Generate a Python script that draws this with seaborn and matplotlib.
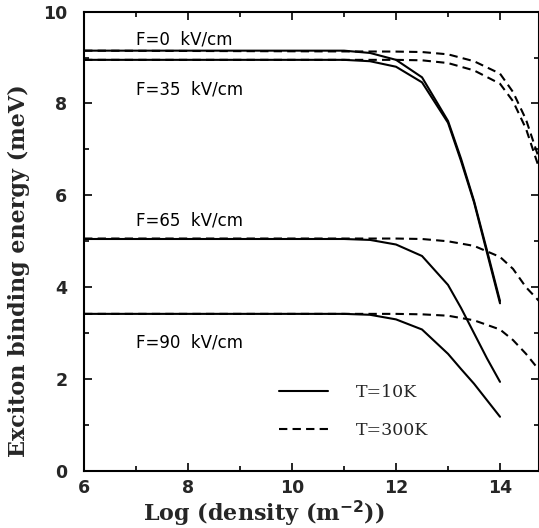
import matplotlib
matplotlib.use("Agg")
import matplotlib.pyplot as plt
import seaborn as sns
import pandas as pd
from matplotlib.lines import Line2D
from matplotlib.ticker import MultipleLocator

# | Data |--------------------------------------------------------------------------------------------------------------|
fields = ["F=0  kV/cm", "F=35  kV/cm", "F=65  kV/cm", "F=90  kV/cm"]

# T = 10K (solid)
x_10k = [6.0, 11.0, 11.5, 12.0, 12.5, 13.0, 13.25, 13.5, 13.75, 14.0]
e_10k_f0 = [9.15, 9.15, 9.10, 8.95, 8.57, 7.62, 6.80, 5.88, 4.80, 3.70]
e_10k_f35 = [8.95, 8.95, 8.92, 8.80, 8.46, 7.58, 6.75, 5.85, 4.75, 3.65]
e_10k_f65 = [5.05, 5.05, 5.03, 4.93, 4.68, 4.05, 3.55, 3.00, 2.45, 1.94]
e_10k_f90 = [3.42, 3.42, 3.40, 3.30, 3.08, 2.55, 2.22, 1.90, 1.54, 1.18]

# T = 300K (dashed)
x_300k = [6.0, 12.0, 12.5, 13.0, 13.5, 14.0, 14.25, 14.5, 14.75]
e_300k_f0 = [9.15, 9.13, 9.12, 9.07, 8.92, 8.65, 8.25, 7.65, 6.80]
e_300k_f35 = [8.95, 8.95, 8.94, 8.88, 8.72, 8.43, 8.05, 7.45, 6.60]
e_300k_f65 = [5.06, 5.06, 5.05, 5.00, 4.90, 4.66, 4.40, 4.00, 3.70]
e_300k_f90 = [3.42, 3.42, 3.41, 3.38, 3.28, 3.08, 2.85, 2.55, 2.20]

# label anchor positions for the field annotations (data coords)
label_x = [7.0, 7.0, 7.0, 7.0]
label_y = [9.4, 8.3, 5.45, 2.8]

legend_labels = ["T=10K", "T=300K"]
# |--------------------------------------------------------------------------------------------------------------------|

rows = []
for f, ys in zip(fields, [e_10k_f0, e_10k_f35, e_10k_f65, e_10k_f90]):
    for x, y in zip(x_10k, ys):
        rows.append({"density": x, "energy": y, "field": f, "T": "T=10K"})
for f, ys in zip(fields, [e_300k_f0, e_300k_f35, e_300k_f65, e_300k_f90]):
    for x, y in zip(x_300k, ys):
        rows.append({"density": x, "energy": y, "field": f, "T": "T=300K"})
df = pd.DataFrame(rows)

sns.set_theme(style="ticks")
plt.rcParams["font.family"] = ["DejaVu Sans"]

fig = plt.figure(figsize=(5.39, 5.28), dpi=100)
ax = fig.add_axes([0.156, 0.108, 0.844, 0.870])

dash = (0, (4, 2.5))
for t, ls in zip(legend_labels, ["-", dash]):
    for f in fields:
        sub = df[(df["T"] == t) & (df["field"] == f)]
        sns.lineplot(data=sub, x="density", y="energy", ax=ax, color="black",
                     linewidth=1.5, linestyle=ls, estimator=None, sort=False,
                     legend=False)

for f, lx, ly in zip(fields, label_x, label_y):
    ax.text(lx, ly, f, fontsize=12, ha="left", va="center", color="black")

ax.set_xlim(6, 14.75)
ax.set_ylim(0, 10)
ax.xaxis.set_major_locator(MultipleLocator(2))
ax.xaxis.set_minor_locator(MultipleLocator(1))
ax.yaxis.set_major_locator(MultipleLocator(2))
ax.yaxis.set_minor_locator(MultipleLocator(1))
ax.tick_params(which="both", direction="in", top=True, right=True, color="black", width=1.2)
ax.tick_params(which="major", length=6, labelsize=12.5)
ax.tick_params(axis="x", which="major", pad=6)
ax.tick_params(axis="y", which="major", pad=12)
ax.tick_params(which="minor", length=3.5)
for lab in ax.get_xticklabels() + ax.get_yticklabels():
    lab.set_fontweight("bold")
for s in ax.spines.values():
    s.set_color("black")
    s.set_linewidth(1.5)

ax.set_xlabel("Log (density (m$^{\\mathbf{-2}}$))", fontsize=16, fontweight="bold",
              family="DejaVu Serif")
ax.set_ylabel("Exciton binding energy (meV)", fontsize=16, fontweight="bold",
              family="DejaVu Serif")
ax.xaxis.set_label_coords(0.396, -0.06)
ax.yaxis.set_label_coords(-0.118, 0.436)

handles = [Line2D([], [], color="black", linewidth=1.5, linestyle="-"),
           Line2D([], [], color="black", linewidth=1.5, linestyle=dash)]
ax.legend(handles, legend_labels, loc="lower left", bbox_to_anchor=(0.395, 0.035),
          frameon=False, handlelength=2.8, handletextpad=1.6, labelspacing=1.2,
          prop={"family": "DejaVu Serif", "size": 12.5})

fig.savefig("out.png", dpi=100)
